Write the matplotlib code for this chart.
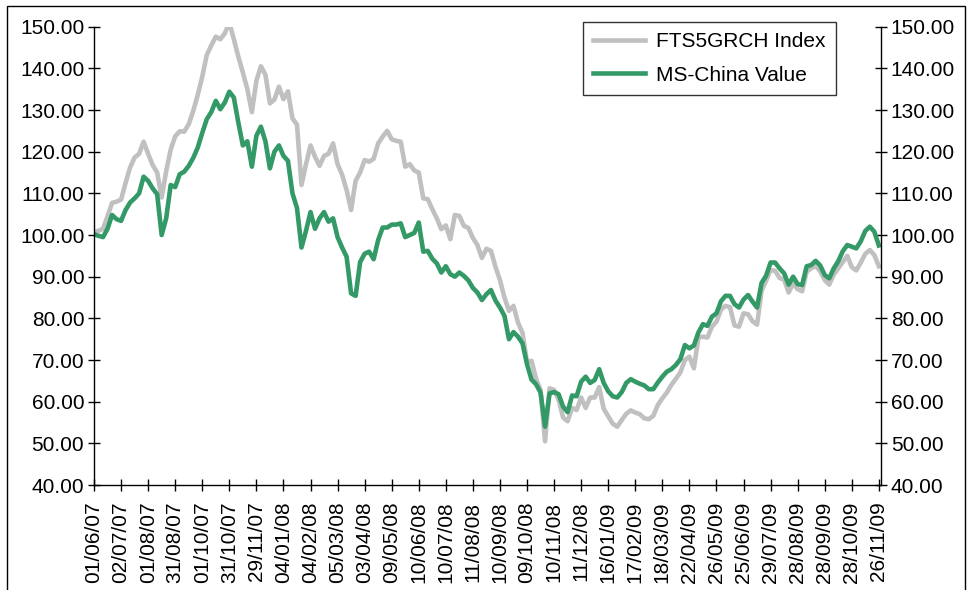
import numpy as np
import matplotlib
matplotlib.use("Agg")
import matplotlib.pyplot as plt
from matplotlib.patches import Rectangle

plt.rcParams['font.family'] = ['Liberation Sans', 'DejaVu Sans']

# ---- data (~6 samples per tick interval) ----
tick_labels = ["01/06/07", "02/07/07", "01/08/07", "31/08/07", "01/10/07", "31/10/07",
               "29/11/07", "04/01/08", "04/02/08", "05/03/08", "03/04/08", "09/05/08",
               "10/06/08", "10/07/08", "11/08/08", "10/09/08", "09/10/08", "10/11/08",
               "11/12/08", "16/01/09", "17/02/09", "18/03/09", "22/04/09", "26/05/09",
               "25/06/09", "29/07/09", "28/08/09", "28/09/09", "28/10/09", "26/11/09"]
samples_per_tick = 6

fts5grch = [
    100.8, 101.0, 101.5, 104.5, 107.7, 108.0, 108.5, 112.5, 116.2, 118.6,
    119.5, 122.4, 119.5, 116.8, 115.0, 109.0, 115.3, 120.5, 123.7, 124.9,
    124.8, 126.6, 129.8, 133.6, 138.0, 143.2, 145.5, 147.6, 147.0, 148.4,
    151.0, 147.0, 142.8, 139.0, 135.0, 129.5, 137.0, 140.5, 138.5, 131.6,
    132.5, 135.6, 132.6, 134.5, 128.0, 126.5, 112.0, 117.0, 121.5, 118.8,
    116.6, 119.0, 119.5, 122.0, 117.0, 114.5, 110.8, 106.0, 113.0, 115.0,
    118.0, 117.6, 118.3, 122.0, 123.6, 125.0, 123.0, 122.6, 122.4, 116.4,
    117.0, 115.5, 115.0, 108.8, 108.6, 106.2, 104.0, 101.4, 102.3, 99.0,
    104.8, 104.6, 102.2, 101.7, 99.3, 97.6, 94.5, 96.7, 96.2, 92.4,
    89.2, 85.0, 81.8, 83.0, 79.0, 76.5, 69.5, 69.8, 65.5, 62.8,
    50.5, 63.2, 62.8, 60.5, 56.2, 55.3, 58.5, 58.0, 61.0, 58.5,
    61.0, 61.0, 63.5, 58.3, 56.5, 54.7, 54.0, 55.6, 57.1, 57.9,
    57.4, 57.0, 56.0, 55.8, 56.6, 59.2, 60.8, 62.2, 64.0, 65.5,
    67.0, 70.0, 70.8, 68.0, 75.4, 75.6, 75.4, 78.0, 79.2, 82.1,
    83.0, 82.7, 78.3, 78.0, 81.2, 81.0, 79.3, 78.5, 86.6, 89.0,
    91.6, 91.4, 89.7, 89.3, 86.2, 88.4, 87.0, 86.5, 91.2, 92.0,
    92.6, 91.3, 89.2, 88.1, 90.5, 92.0, 93.5, 95.0, 92.3, 91.5,
    93.4, 95.5, 96.4, 95.2, 92.5,
]

ms_china_value = [
    100.2, 99.8, 99.5, 101.5, 104.8, 103.8, 103.4, 106.0, 107.8, 108.8,
    110.0, 114.0, 113.0, 111.2, 109.8, 100.0, 104.0, 112.0, 111.5, 114.6,
    115.2, 116.6, 118.5, 121.0, 124.5, 127.8, 129.5, 132.2, 130.2, 131.8,
    134.4, 133.0, 127.0, 121.5, 122.5, 116.4, 123.8, 126.0, 122.5, 116.0,
    120.0, 121.5, 119.0, 117.8, 110.0, 106.5, 97.0, 101.0, 105.5, 101.5,
    104.0, 105.5, 103.2, 104.0, 99.5, 97.0, 94.8, 86.0, 85.4, 93.5,
    95.5, 96.0, 94.2, 98.8, 101.8, 101.8, 102.5, 102.5, 102.8, 99.5,
    100.0, 100.5, 103.0, 96.0, 96.2, 94.3, 93.2, 91.0, 92.5, 90.6,
    90.0, 91.0, 90.2, 89.1, 87.3, 86.2, 84.4, 85.8, 86.8, 84.3,
    82.6, 80.6, 75.0, 76.7, 75.6, 74.0, 69.0, 65.3, 64.2, 62.2,
    54.0, 62.0, 62.3, 61.8, 58.8, 57.5, 61.5, 61.3, 64.8, 66.0,
    64.5, 65.2, 67.8, 64.5, 62.5, 61.3, 61.0, 62.3, 64.5, 65.4,
    64.8, 64.3, 63.9, 63.0, 63.0, 64.6, 66.0, 67.2, 67.8, 68.8,
    70.2, 73.6, 72.8, 73.5, 76.6, 78.6, 78.2, 80.4, 81.2, 84.1,
    85.4, 85.4, 83.4, 82.6, 84.5, 85.6, 84.0, 82.6, 88.5, 90.2,
    93.4, 93.4, 92.0, 90.8, 88.1, 90.0, 88.2, 88.0, 92.5, 92.8,
    93.8, 92.7, 90.4, 89.6, 92.0, 93.7, 96.1, 97.6, 97.2, 96.8,
    98.5, 101.0, 102.0, 100.8, 97.5,
]

y_ticks = [40, 50, 60, 70, 80, 90, 100, 110, 120, 130, 140, 150]

GRAY = "#C0C0C0"
GREEN = "#339966"

# ---- figure ----
W, H = 970, 590
fig = plt.figure(figsize=(W / 100, H / 100), dpi=100)
ax = fig.add_axes([94 / W, 1 - 485 / H, (881 - 94) / W, (485 - 26.7) / H])

x = np.arange(len(ms_china_value)) / samples_per_tick
ax.plot(x, fts5grch, color=GRAY, lw=3.3, label="FTS5GRCH Index", solid_joinstyle="round")
ax.plot(x, ms_china_value, color=GREEN, lw=3.3, label="MS-China Value", solid_joinstyle="round")

ax.set_xlim(0, 29.08)
ax.set_ylim(40, 150)
ax.set_yticks(y_ticks)
ax.set_yticklabels([f"{v:.2f}" for v in y_ticks])
ax.set_xticks(np.arange(len(tick_labels)))
ax.set_xticklabels(tick_labels, rotation=90)

FS = 15
ax.tick_params(axis="y", direction="inout", length=8, width=1, labelsize=FS, pad=3,
               left=True, right=True, labelleft=True, labelright=True)
ax.tick_params(axis="x", direction="inout", length=8, width=1, labelsize=FS, pad=8)
ax.spines["top"].set_visible(False)
for s in ["left", "right", "bottom"]:
    ax.spines[s].set_linewidth(1.0)
    ax.spines[s].set_color("black")

leg = ax.legend(loc="upper left", bbox_to_anchor=(583 / W, 1 - 21.7 / H),
                bbox_transform=fig.transFigure, borderaxespad=0, frameon=True,
                fancybox=False, edgecolor="black", fontsize=FS,
                handlelength=2.5, handletextpad=0.5, labelspacing=0.7,
                borderpad=0.5)
leg.get_frame().set_linewidth(1.0)

# figure border
fig.patches.append(Rectangle((7 / W, -0.02), (965 - 7) / W, 1 - 6 / H + 0.02,
                             transform=fig.transFigure, fill=False,
                             edgecolor="black", lw=1.0))

fig.savefig("out.png", dpi=100)
